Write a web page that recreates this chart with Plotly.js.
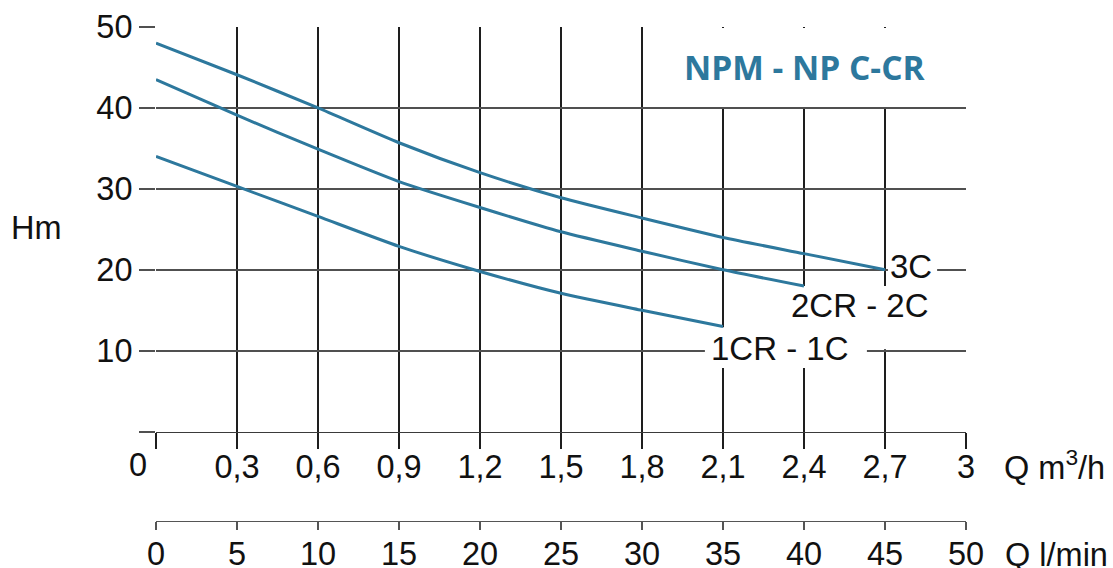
<!DOCTYPE html>
<html>
<head>
<meta charset="utf-8">
<script src="https://cdn.plot.ly/plotly-3.0.1.min.js"></script>
<style>
  html, body { margin: 0; padding: 0; background: #ffffff; }
  #chart { width: 1113px; height: 568px; }
</style>
</head>
<body>
<div id="chart"></div>
<script>
// ---- data ----
const flow_m3h = [0, 0.3, 0.6, 0.9, 1.2, 1.5, 1.8, 2.1, 2.4, 2.7];
const head_3C   = [48.0, 44.1, 40.0, 35.7, 32.0, 28.9, 26.4, 24.0, 22.0, 20.0];
const head_2C   = [43.5, 39.1, 34.9, 30.9, 27.7, 24.7, 22.3, 20.0, 18.0];
const head_1C   = [34.0, 30.3, 26.6, 22.9, 19.8, 17.1, 15.0, 13.0];

const seriesNames = ["3C", "2CR - 2C", "1CR - 1C"];

const xTickVals  = [0, 0.3, 0.6, 0.9, 1.2, 1.5, 1.8, 2.1, 2.4, 2.7, 3];
const xTickText  = ["", "0,3", "0,6", "0,9", "1,2", "1,5", "1,8", "2,1", "2,4", "2,7", "3"];
const yTickVals  = [0, 10, 20, 30, 40, 50];
const yTickText  = ["", "10", "20", "30", "40", "50"];
const lminTickVals = [0, 5, 10, 15, 20, 25, 30, 35, 40, 45, 50];

const chartTitle = "NPM - NP C-CR";
const originLabel = "0";

// ---- styles ----
const curveColor = "#2d789d";
const tickFont = {family: "Liberation Sans, Arial, sans-serif", size: 32.5, color: "#111"};
const labelFont = {family: "Liberation Sans, Arial, sans-serif", size: 33, color: "#111"};

function curve(y, name) {
  return {
    x: flow_m3h.slice(0, y.length), y: y, name: name,
    type: "scatter", mode: "lines",
    line: {color: curveColor, width: 3, shape: "spline", smoothing: 0.6},
    hoverinfo: "skip", showlegend: false
  };
}

const traces = [
  curve(head_3C, seriesNames[0]),
  curve(head_2C, seriesNames[1]),
  curve(head_1C, seriesNames[2]),
  { // helper so the l/min axis is built
    x: [lminTickVals[0], lminTickVals[lminTickVals.length - 1]], y: [null, null],
    xaxis: "x2", yaxis: "y", type: "scatter", mode: "markers",
    marker: {opacity: 0}, hoverinfo: "skip", showlegend: false
  }
];

const white = {type: "rect", xref: "x", yref: "y", layer: "between",
               fillcolor: "#ffffff", line: {width: 0}};

const layout = {
  width: 1113, height: 568,
  margin: {l: 156, r: 147, t: 27, b: 20},
  paper_bgcolor: "#ffffff", plot_bgcolor: "#ffffff",
  showlegend: false,
  xaxis: {
    range: [0, 3], tickvals: xTickVals, ticktext: xTickText,
    showgrid: true, gridcolor: "#1e1e1e", gridwidth: 1.2,
    ticks: "outside", ticklen: 16, tickcolor: "#1e1e1e", tickwidth: 1.2,
    ticklabelstandoff: -10,
    showline: true, linecolor: "#3a3a3a", linewidth: 1.5,
    zeroline: false, tickfont: tickFont, anchor: "y", fixedrange: true
  },
  xaxis2: {
    range: [0, 50], tickvals: lminTickVals, overlaying: "x",
    anchor: "free", position: 0.0524, side: "bottom",
    showgrid: false, zeroline: false,
    ticks: "outside", ticklen: 8, tickcolor: "#555", tickwidth: 1.5,
    ticklabelstandoff: -4,
    showline: true, linecolor: "#555", linewidth: 1.5,
    tickfont: tickFont, fixedrange: true
  },
  yaxis: {
    range: [0, 50], tickvals: yTickVals, ticktext: yTickText,
    domain: [0.2232, 1],
    showgrid: true, gridcolor: "#505050", gridwidth: 1.6,
    ticks: "outside", ticklen: 16, tickcolor: "#505050", tickwidth: 1.6,
    showline: false, zeroline: false, tickfont: tickFont, fixedrange: true
  },
  shapes: [
    Object.assign({x0: 1.805, x1: 2.995, y0: 40.12, y1: 49.88}, white),
    Object.assign({x0: 2.711, x1: 2.893, y0: 19.0, y1: 21.5}, white),
    Object.assign({x0: 2.33, x1: 2.893, y0: 10.2, y1: 18.0}, white),
    Object.assign({x0: 2.033, x1: 2.633, y0: 7.86, y1: 12.9}, white)
  ],
  annotations: [
    {text: "<b>" + chartTitle + "</b>", xref: "x", yref: "y", x: 2.4, y: 45.1,
     showarrow: false, xanchor: "center", yanchor: "middle",
     font: {family: "Open Sans, sans-serif", size: 33.5, color: "#2d789d"}},
    {text: seriesNames[0], xref: "x", yref: "y", x: 2.796, y: 20.37,
     showarrow: false, xanchor: "center", yanchor: "middle", font: labelFont},
    {text: seriesNames[1], xref: "x", yref: "y", x: 2.607, y: 15.64,
     showarrow: false, xanchor: "center", yanchor: "middle", font: labelFont},
    {text: seriesNames[2], xref: "x", yref: "y", x: 2.31, y: 10.27,
     showarrow: false, xanchor: "center", yanchor: "middle", font: labelFont},
    {text: "Hm", xref: "paper", yref: "paper", x: -0.148, y: 0.6136,
     showarrow: false, xanchor: "center", yanchor: "middle", font: tickFont},
    {text: originLabel, xref: "paper", yref: "paper", x: -0.0222, y: 0.1593,
     showarrow: false, xanchor: "center", yanchor: "middle", font: tickFont},
    {text: "Q m<sup>3</sup>/h", xref: "paper", yref: "paper", x: 1.0444, y: 0.2232, yshift: -33,
     showarrow: false, xanchor: "left", yanchor: "middle", font: tickFont},
    {text: "Q l/min", xref: "paper", yref: "paper", x: 1.0457, y: 0.0524, yshift: -34,
     showarrow: false, xanchor: "left", yanchor: "middle", font: tickFont}
  ]
};

Plotly.newPlot("chart", traces, layout, {displayModeBar: false, staticPlot: true});
</script>
</body>
</html>
